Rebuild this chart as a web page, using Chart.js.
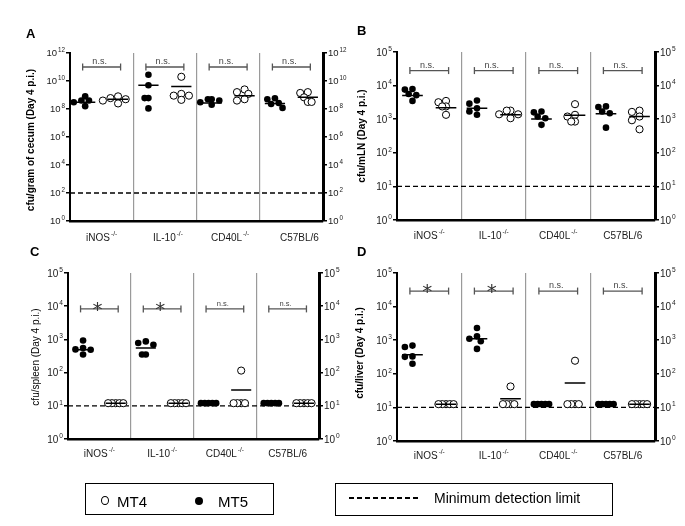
<!DOCTYPE html>
<html><head><meta charset="utf-8">
<script src="https://cdn.jsdelivr.net/npm/chart.js@4.4.1/dist/chart.umd.min.js"></script>
<style>
body{margin:0;width:685px;height:526px;background:#fff;position:relative;overflow:hidden;font-family:"Liberation Sans",Arial,sans-serif;}
canvas{position:absolute;}
.box{position:absolute;border:1.5px solid #000;box-sizing:border-box;}
.txt{position:absolute;color:#000;white-space:nowrap;line-height:1;}
.dot{position:absolute;border-radius:50%;box-sizing:border-box;}
</style></head><body>
<canvas id="cA" width="350" height="245" style="left:0;top:0"></canvas>
<canvas id="cB" width="340" height="245" style="left:345px;top:0"></canvas>
<canvas id="cC" width="350" height="235" style="left:0;top:240px"></canvas>
<canvas id="cD" width="340" height="235" style="left:345px;top:240px"></canvas>

<div class="box" style="left:85px;top:483px;width:189px;height:32px"></div>
<div class="dot" style="left:101px;top:496px;width:8px;height:9px;border:1.3px solid #000;background:#fff"></div>
<div class="txt" id="lg1" style="left:117px;top:494px;font-size:15px">MT4</div>
<div class="dot" style="left:195px;top:497px;width:8px;height:8px;background:#000"></div>
<div class="txt" id="lg2" style="left:218px;top:494px;font-size:15px">MT5</div>

<div class="box" style="left:335px;top:483px;width:278px;height:33px"></div>
<div style="position:absolute;left:349px;top:497px;width:72px;height:1.5px;background:repeating-linear-gradient(to right,#000 0 5.5px,transparent 5.5px 8px)"></div>
<div class="txt" id="lg3" style="left:434px;top:491px;font-size:14px">Minimum detection limit</div>

<script>
// ---------- DATA ----------
const categories = ['iNOS', 'IL-10', 'CD40L', 'C57BL/6'];
const categorySup = ['-/-', '-/-', '-/-', ''];

// Panel A: cfu/gram of cecum
const cecumMT5 = [[8e8, 4e8, 4e8, 1.6e8, 3e8], [2.8e10, 5e9, 6e8, 6e8, 1.1e8], [5e8, 5e8, 4e8, 3e8, 2e8], [5.8e8, 5e8, 2.7e8, 2.3e8, 1.2e8]];
const cecumMT4 = [[8e8, 6e8, 5e8, 4e8, 2.5e8], [2e10, 1.2e9, 9e8, 9e8, 4.5e8], [2.5e9, 1.6e9, 1.2e9, 5e8, 4e8], [1.6e9, 1.4e9, 6.8e8, 3.2e8, 3.2e8]];
const cecumMeanMT5 = [3e8, 5e9, 2.7e8, 2.5e8];
const cecumMeanMT4 = [5e8, 4e9, 9e8, 6.8e8];
const cecumSig = ['n.s.', 'n.s.', 'n.s.', 'n.s.'];
const cecumBracket = 1e11;
const cecumLimit = 100;
const cecumTickExps = [0, 2, 4, 6, 8, 10, 12];

// Panel B: cfu/mLN
const mlnMT5 = [[7900, 7600, 5600, 5200, 3500], [3600, 2900, 2100, 1700, 1350], [1700, 1600, 1200, 1070, 680], [2400, 2300, 1700, 1500, 560]];
const mlnMT4 = [[3500, 3200, 2400, 2400, 1350], [1800, 1800, 1400, 1400, 1070], [2800, 1350, 1200, 850, 850], [1800, 1650, 1200, 930, 500]];
const mlnMeanMT5 = [5100, 2100, 1020, 1450];
const mlnMeanMT4 = [2200, 1350, 1300, 1200];
const mlnSig = ['n.s.', 'n.s.', 'n.s.', 'n.s.'];
const mlnBracket = 2.8e4;
const mlnLimit = 10;

// Panel C: cfu/spleen
const spleenMT5 = [[930, 550, 500, 490, 350], [870, 780, 690, 350, 350], [12, 12, 12, 12, 12], [12, 12, 12, 12, 12]];
const spleenMT4 = [[12, 12, 12, 12, 12], [12, 12, 12, 12, 12], [115, 12, 12, 12, 12], [12, 12, 12, 12, 12]];
const spleenMeanMT5 = [490, 550, 12, 12];
const spleenMeanMT4 = [12, 12, 30, 12];
const spleenSig = ['*', '*', 'n.s.', 'n.s.'];
const spleenBracket = 8300;
const spleenLimit = 10;

// Panel D: cfu/liver
const liverMT5 = [[690, 630, 330, 320, 200], [2300, 1300, 1100, 930, 550], [12.5, 12.5, 12.5, 12.5, 12.5], [12.5, 12.5, 12.5, 12.5, 12.5]];
const liverMT4 = [[12.5, 12.5, 12.5, 12.5, 12.5], [42, 12.5, 12.5, 12.5, 12.5], [245, 12.5, 12.5, 12.5, 12.5], [12.5, 12.5, 12.5, 12.5, 12.5]];
const liverMeanMT5 = [370, 1100, 12.5, 12.5];
const liverMeanMT4 = [12.5, 18, 53, 12.5];
const liverSig = ['*', '*', 'n.s.', 'n.s.'];
const liverBracket = 2.9e4;
const liverLimit = 10;

const smallTickExps = [0, 1, 2, 3, 4, 5];

// ---------- LAYOUT ----------
const C5 = 0.24, C4 = 0.76, MH = 0.16, BR0 = 0.2, BR1 = 0.8;

function swarm(values, decadePx, unitPx) {
  const placed = [];
  const order = values.map((v, i) => i).sort((a, b) => values[b] - values[a]);
  const res = new Array(values.length).fill(0);
  const step = 3.8 / unitPx;
  for (const i of order) {
    const ly = Math.log10(values[i]) * decadePx;
    for (let k = 0; k < 21; k++) {
      const off = k === 0 ? 0 : (k % 2 ? -1 : 1) * Math.ceil(k / 2) * step;
      const ok = placed.every(p => {
        const dx = (off - p.off) * unitPx, dy = ly - p.ly;
        return dy === 0 ? Math.abs(dx) >= 3.7 : Math.hypot(dx, dy) >= 5.5;
      });
      if (ok) { placed.push({ off, ly }); res[i] = off; break; }
    }
  }
  return res;
}

function drawPow(ctx, e, x, y, align, size) {
  const sup = size * 0.66;
  ctx.font = size + 'px "Liberation Sans", Arial, sans-serif';
  const w1 = ctx.measureText('10').width;
  ctx.font = sup + 'px "Liberation Sans", Arial, sans-serif';
  const w2 = ctx.measureText(String(e)).width;
  const x0 = align === 'right' ? x - (w1 + 1 + w2) : x;
  ctx.textAlign = 'left';
  ctx.textBaseline = 'alphabetic';
  ctx.font = size + 'px "Liberation Sans", Arial, sans-serif';
  ctx.fillText('10', x0, y + size * 0.36);
  ctx.font = sup + 'px "Liberation Sans", Arial, sans-serif';
  ctx.fillText(String(e), x0 + w1 + 1, y - size * 0.12);
}

function makePanel(p) {
  const canvas = document.getElementById(p.id);
  const W = canvas.width, H = canvas.height;
  const catW = (p.area.right - p.area.left) / 4;
  const decadePx = (p.area.bottom - p.area.top) / p.maxExp;
  const pts5 = [], pts4 = [], meanSeg = [], brSeg = [];
  p.mt5.forEach((vals, i) => { const o = swarm(vals, decadePx, catW); vals.forEach((v, j) => pts5.push({ x: i + C5 + o[j], y: v })); });
  p.mt4.forEach((vals, i) => { const o = swarm(vals, decadePx, catW); vals.forEach((v, j) => pts4.push({ x: i + C4 + o[j], y: v })); });
  for (let i = 0; i < 4; i++) {
    meanSeg.push({ x: i + C5 - MH, y: p.mean5[i] }, { x: i + C5 + MH, y: p.mean5[i] }, { x: i + 0.5, y: null });
    meanSeg.push({ x: i + C4 - MH, y: p.mean4[i] }, { x: i + C4 + MH, y: p.mean4[i] }, { x: i + 0.99, y: null });
    brSeg.push({ x: i + BR0, y: p.bracket }, { x: i + BR1, y: p.bracket }, { x: i + 0.9, y: null });
  }
  const yCommon = {
    type: 'logarithmic', min: 1, max: Math.pow(10, p.maxExp),
    afterBuildTicks: s => { s.ticks = p.tickExps.map(e => ({ value: Math.pow(10, e) })); },
    ticks: { display: false },
    grid: { drawOnChartArea: false, drawTicks: true, tickLength: 4, color: '#000', lineWidth: 1.5 }
  };
  const textPlugin = {
    id: 'txt' + p.id,
    afterDraw(chart) {
      const ctx = chart.ctx, ys = chart.scales.y, xs = chart.scales.x, ca = chart.chartArea;
      ctx.save();
      ctx.fillStyle = '#1a1a1a';
      p.tickExps.forEach(e => {
        const py = ys.getPixelForValue(Math.pow(10, e));
        drawPow(ctx, e, ca.left - 5, py, 'right', p.tickSize);
        drawPow(ctx, e, ca.right + 5, py, 'left', p.tickSize);
      });
      // category labels
      categories.forEach((c, i) => {
        const cx = xs.getPixelForValue(i + 0.5) + (p.labelShift ? p.labelShift[i] : 0);
        ctx.font = '10px "Liberation Sans", Arial, sans-serif';
        const w1 = ctx.measureText(c).width;
        ctx.font = '6.5px "Liberation Sans", Arial, sans-serif';
        const w2 = categorySup[i] ? ctx.measureText(categorySup[i]).width + 1 : 0;
        const x0 = cx - (w1 + w2) / 2;
        const by = ca.bottom + p.labelDy;
        ctx.textAlign = 'left'; ctx.textBaseline = 'alphabetic';
        ctx.font = '10px "Liberation Sans", Arial, sans-serif';
        ctx.fillText(c, x0, by);
        if (categorySup[i]) {
          ctx.font = '6.5px "Liberation Sans", Arial, sans-serif';
          ctx.fillText(categorySup[i], x0 + w1 + 1, by - 5);
        }
      });
      // significance labels
      const bry = ys.getPixelForValue(p.bracket);
      p.sig.forEach((s, i) => {
        const cx = xs.getPixelForValue(i + 0.5);
        ctx.textAlign = 'center'; ctx.textBaseline = 'alphabetic';
        if (s === '*') {
          ctx.fillStyle = '#333';
          ctx.font = '20px "DejaVu Sans", sans-serif';
          ctx.fillText('*', cx - 2, bry + 7);
        } else {
          ctx.fillStyle = '#444';
          ctx.font = p.nsSize + 'px "Liberation Sans", Arial, sans-serif';
          ctx.fillText(s, cx - 2, bry - 3);
        }
      });
      // y title
      ctx.fillStyle = '#000';
      ctx.save();
      ctx.translate(p.titlePos[0], p.titlePos[1]);
      ctx.rotate(-Math.PI / 2);
      ctx.textAlign = 'center'; ctx.textBaseline = 'middle';
      ctx.font = p.titleWeight + ' 10px "Liberation Sans", Arial, sans-serif';
      ctx.fillText(p.title, 0, 0);
      ctx.restore();
      // panel letter
      ctx.font = 'bold 13px "Liberation Sans", Arial, sans-serif';
      ctx.textAlign = 'left'; ctx.textBaseline = 'alphabetic';
      ctx.fillText(p.letter, p.letterPos[0], p.letterPos[1]);
      ctx.restore();
    }
  };
  return new Chart(canvas, {
    type: 'scatter',
    data: {
      datasets: [
        { type: 'line', data: meanSeg, borderColor: '#000', borderWidth: 1.5, pointRadius: 0, spanGaps: false, order: 0 },
        { type: 'scatter', data: pts4, pointRadius: 3.6, backgroundColor: '#fff', borderColor: '#000', borderWidth: 1, order: 1 },
        { type: 'scatter', data: pts5, pointRadius: 3.3, backgroundColor: '#000', borderColor: '#000', borderWidth: 0, order: 2 },
        { type: 'line', data: [{ x: 0, y: p.limit }, { x: 4, y: p.limit }], borderColor: '#000', borderWidth: 1.3, borderDash: [5, 3], pointRadius: 0, order: 3 },
        { type: 'line', data: brSeg, borderColor: '#555', borderWidth: 1.3, pointStyle: 'line', rotation: 90, pointRadius: 3.5, pointBorderColor: '#555', pointBorderWidth: 1.3, spanGaps: false, order: 4 }
      ]
    },
    options: {
      responsive: false, animation: false, events: [],
      layout: { padding: { top: p.area.top, left: 0, right: 0, bottom: 0 }, autoPadding: false },
      plugins: { legend: { display: false }, tooltip: { enabled: false } },
      scales: {
        x: {
          type: 'linear', min: 0, max: 4,
          afterBuildTicks: s => { s.ticks = [0, 1, 2, 3, 4].map(v => ({ value: v })); },
          ticks: { display: false },
          grid: { color: c => (c.tick && c.tick.value > 0 && c.tick.value < 4) ? '#9a9a9a' : 'rgba(0,0,0,0)', lineWidth: 1.2, drawTicks: false },
          border: { display: true, color: '#000', width: 2.5 },
          afterFit: s => { s.height = H - p.area.bottom; }
        },
        y: Object.assign({}, yCommon, { position: 'left', border: { display: true, color: '#000', width: 2 }, afterFit: s => { s.width = p.area.left; } }),
        y2: Object.assign({}, yCommon, { position: 'right', border: { display: true, color: '#000', width: 3 }, afterFit: s => { s.width = W - p.area.right; } })
      }
    },
    plugins: [textPlugin]
  });
}

makePanel({ id: 'cA', letter: 'A', letterPos: [26, 38], area: { left: 70, right: 323, top: 53, bottom: 221 }, maxExp: 12, tickExps: cecumTickExps, tickSize: 9.5,
  mt5: cecumMT5, mt4: cecumMT4, mean5: cecumMeanMT5, mean4: cecumMeanMT4, sig: cecumSig, bracket: cecumBracket, limit: cecumLimit, nsSize: 9,
  title: 'cfu/gram of cecum (Day 4 p.i.)', titleWeight: 'bold', titlePos: [31, 140], labelDy: 20, labelShift: [0, 3, 2, 8] });
makePanel({ id: 'cB', letter: 'B', letterPos: [12, 35], area: { left: 52, right: 310, top: 52, bottom: 220 }, maxExp: 5, tickExps: smallTickExps, tickSize: 10,
  mt5: mlnMT5, mt4: mlnMT4, mean5: mlnMeanMT5, mean4: mlnMeanMT4, sig: mlnSig, bracket: mlnBracket, limit: mlnLimit, nsSize: 9,
  title: 'cfu/mLN (Day 4 p.i.)', titleWeight: 'bold', titlePos: [17, 136], labelDy: 19, labelShift: [0, 0, 0, 0] });
makePanel({ id: 'cC', letter: 'C', letterPos: [30, 16], area: { left: 68, right: 319, top: 33, bottom: 199 }, maxExp: 5, tickExps: smallTickExps, tickSize: 10,
  mt5: spleenMT5, mt4: spleenMT4, mean5: spleenMeanMT5, mean4: spleenMeanMT4, sig: spleenSig, bracket: spleenBracket, limit: spleenLimit, nsSize: 7.5,
  title: 'cfu/spleen (Day 4 p.i.)', titleWeight: 'normal', titlePos: [36, 117], labelDy: 18, labelShift: [0, 0, 0, 0] });
makePanel({ id: 'cD', letter: 'D', letterPos: [12, 16], area: { left: 52, right: 310, top: 33, bottom: 201 }, maxExp: 5, tickExps: smallTickExps, tickSize: 10,
  mt5: liverMT5, mt4: liverMT4, mean5: liverMeanMT5, mean4: liverMeanMT4, sig: liverSig, bracket: liverBracket, limit: liverLimit, nsSize: 9,
  title: 'cfu/liver (Day 4 p.i.)', titleWeight: 'bold', titlePos: [15, 113], labelDy: 18, labelShift: [0, 0, 0, 0] });
</script>
</body></html>
